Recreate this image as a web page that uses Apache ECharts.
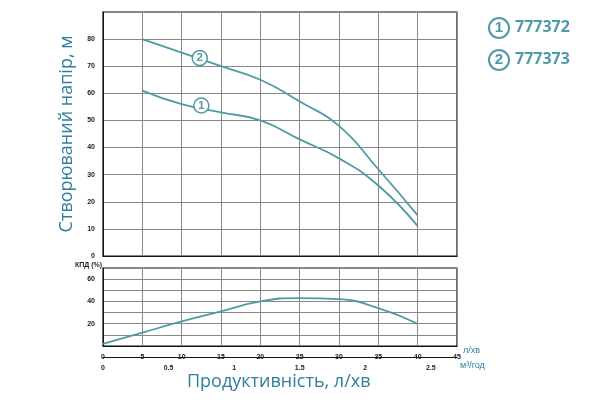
<!DOCTYPE html>
<html><head><meta charset="utf-8">
<script src="https://cdn.jsdelivr.net/npm/echarts@6/dist/echarts.min.js"></script>
<style>body{margin:0}#main{width:600px;height:400px}</style>
</head><body><div id="main"></div>
<script>
var flow = [5, 10, 15, 20, 25, 30, 35, 40];
var head1 = [61, 56, 53, 50, 43, 36, 26, 11];
var head2 = [80, 75, 70, 65, 57, 48, 32, 15];
var effFlow = [0, 5, 10, 15, 20, 25, 30, 35, 40];
var eff = [2, 12, 22, 31, 40, 43, 42, 34, 20];
var models = ['777372', '777373'];

var teal = '#4f9aa6';
var txt = '#2f7f9d';
function pts(xs, ys) { return xs.map(function (x, i) { return [x, ys[i]]; }); }
function tag(n, x, y) {
    return { coord: [x, y], value: n, symbol: 'circle', symbolSize: 15,
        itemStyle: { color: '#fff', borderColor: teal, borderWidth: 1.5 },
        label: { color: teal, fontWeight: 'bold', fontSize: 11 } };
}
var grid = { show: true, borderColor: '#111', borderWidth: 1.2 };
var split = { show: true, lineStyle: { color: '#888', width: 1 } };
var lbl = { fontSize: 7, fontWeight: 'bold', color: '#222' };

var chart = echarts.init(document.getElementById('main'));
chart.setOption({
    animation: false,
    grid: [
        Object.assign({ left: 103, top: 12, width: 354, height: 244 }, grid),
        Object.assign({ left: 103, top: 268, width: 354, height: 78 }, grid)
    ],
    xAxis: [
        { gridIndex: 0, type: 'value', min: 0, max: 45, interval: 5, axisLabel: { show: false },
          axisTick: { show: false }, splitLine: split, axisLine: { lineStyle: { color: '#111' } } },
        { gridIndex: 1, type: 'value', min: 0, max: 45, interval: 5, axisLabel: lbl,
          axisTick: { show: false }, splitLine: split, axisLine: { lineStyle: { color: '#111' } } },
        { gridIndex: 1, type: 'value', position: 'bottom', offset: 11, min: 0, max: 2.7, interval: 0.5,
          axisLabel: Object.assign({ showMaxLabel: false }, lbl), axisTick: { show: false },
          splitLine: { show: false }, axisLine: { lineStyle: { color: '#111' } } }
    ],
    yAxis: [
        { gridIndex: 0, type: 'value', min: 0, max: 90, interval: 10, axisLabel: Object.assign({ showMaxLabel: false }, lbl),
          axisTick: { show: false }, splitLine: split, axisLine: { lineStyle: { color: '#111' } },
          name: 'Створюваний напір, м', nameLocation: 'middle', nameGap: 20,
          nameTextStyle: { color: txt, fontSize: 18, fontFamily: 'Open Sans' } },
        { gridIndex: 1, type: 'value', min: 0, max: 70, interval: 10, splitLine: split,
          axisTick: { show: false }, axisLine: { lineStyle: { color: '#111' } },
          axisLabel: Object.assign({ formatter: function (v) { return v % 20 === 0 && v > 0 ? v : (v === 0 ? '' : ''); } }, lbl) }
    ],
    series: [
        { type: 'line', xAxisIndex: 0, yAxisIndex: 0, smooth: true, showSymbol: false,
          lineStyle: { color: teal, width: 1.8 }, data: pts(flow, head1),
          markPoint: { data: [tag('1', 12.5, 55.5)] } },
        { type: 'line', xAxisIndex: 0, yAxisIndex: 0, smooth: true, showSymbol: false,
          lineStyle: { color: teal, width: 1.8 }, data: pts(flow, head2),
          markPoint: { data: [tag('2', 12.3, 73)] } },
        { type: 'line', xAxisIndex: 1, yAxisIndex: 1, smooth: true, showSymbol: false,
          lineStyle: { color: teal, width: 1.8 }, data: pts(effFlow, eff) }
    ],
    graphic: [
        { type: 'text', left: 75, top: 262, style: { text: 'КПД (%)', fontSize: 7, fontWeight: 'bold', fill: '#222' } },
        { type: 'text', left: 463, top: 346, style: { text: 'л/хв', fontSize: 9, fill: txt } },
        { type: 'text', left: 460, top: 361, style: { text: 'м³/год', fontSize: 9, fill: txt } },
        { type: 'text', left: 187, top: 373, style: { text: 'Продуктивність, л/хв', fontSize: 18, fill: txt, fontFamily: 'Open Sans' } },
        { type: 'circle', shape: { cx: 499, cy: 28, r: 10 }, style: { fill: '#fff', stroke: teal, lineWidth: 2 } },
        { type: 'text', x: 499, y: 28, style: { text: '1', fontSize: 15, fontWeight: 'bold', fill: teal, align: 'center', verticalAlign: 'middle' } },
        { type: 'text', left: 515, top: 19, style: { text: models[0], fontSize: 16, fontWeight: 'bold', fill: teal, fontFamily: 'Open Sans' } },
        { type: 'circle', shape: { cx: 499, cy: 60, r: 10 }, style: { fill: '#fff', stroke: teal, lineWidth: 2 } },
        { type: 'text', x: 499, y: 60, style: { text: '2', fontSize: 15, fontWeight: 'bold', fill: teal, align: 'center', verticalAlign: 'middle' } },
        { type: 'text', left: 515, top: 51, style: { text: models[1], fontSize: 16, fontWeight: 'bold', fill: teal, fontFamily: 'Open Sans' } }
    ]
});
</script>
</body></html>
